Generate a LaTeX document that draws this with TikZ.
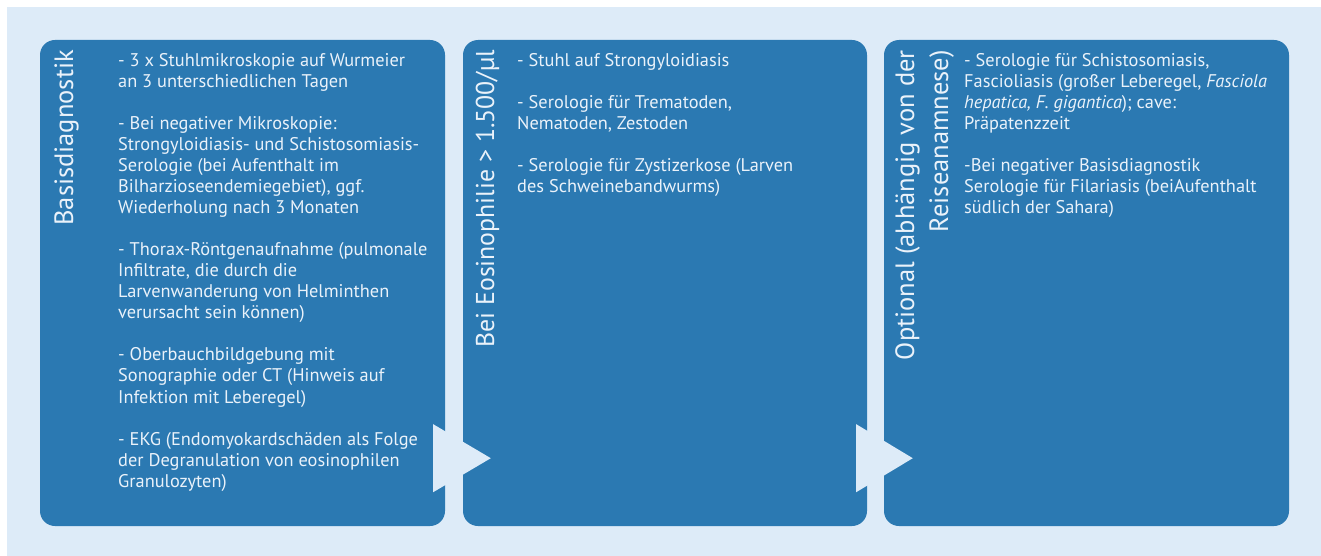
\documentclass[tikz,border=0pt]{standalone}
\usepackage{fontspec}
\setmainfont{PT Sans}
\usetikzlibrary{calc}
\definecolor{bgblue}{HTML}{DDEBF8}
\definecolor{boxblue}{HTML}{2B79B2}
\definecolor{txt}{HTML}{EAF2FA}
\begin{document}
\begin{tikzpicture}[x=1pt,y=-1pt,
  panel/.style={fill=boxblue, rounded corners=15pt, minimum width=405pt, minimum height=486pt, inner sep=0pt, draw=none},
  body/.style={anchor=north west, inner sep=0pt, align=left, text=txt, font=\fontsize{18.35}{21.05}\selectfont},
  title/.style={rotate=90, inner sep=0pt, text=txt, font=\fontsize{26.5}{34}\selectfont},
  tri/.style={fill=bgblue}]
\useasboundingbox (0,0) rectangle (1321,556);
\fill[bgblue] (7,7) rectangle (1321,556);
\node[panel] (b1) at (242.5,283) {};
\node[panel, minimum width=404pt] (b2) at (665,283) {};
\node[panel] (b3) at (1086.5,283) {};
% arrows between panels
\fill[tri] ($(b1.south east)+(-12,-102)$) coordinate (a1l) -- ($(b2.south west)+(28,-68)$) coordinate (a1t) -- ($(b1.south east)+(-12,-34)$) coordinate (a1b) -- cycle;
\fill[tri] ($(b2.south east)+(-11,-102)$) coordinate (a2l) -- ($(b3.south west)+(29,-68)$) coordinate (a2t) -- ($(b2.south east)+(-11,-34)$) coordinate (a2b) -- cycle;
% titles
\node[title, anchor=base east] (t1) at (73,50) {Basisdiagnostik};
\node[title, anchor=base east, font=\fontsize{25.8}{34}\selectfont] (t2) at (494,50) {Bei Eosinophilie > 1.500/µl};
\node[title, anchor=north east, align=right] (t3) at (890.2,50) {\strut Optional (abhängig von der\\Reiseanamnese)};
% body texts
\node[body] (x1) at (118,51.3) {\strut - 3 x Stuhlmikroskopie auf Wurmeier\\
an 3 unterschiedlichen Tagen\\[21.05pt]
- Bei negativer Mikroskopie:\\
Strongyloidiasis- und Schistosomiasis-\\
Serologie (bei Aufenthalt im\\
Bilharzioseendemiegebiet), ggf.\\
Wiederholung nach 3 Monaten\\[21.05pt]
- Thorax-Röntgenaufnahme (pulmonale\\
Infiltrate, die durch die\\
Larvenwanderung von Helminthen\\
verursacht sein können)\\[21.05pt]
- Oberbauchbildgebung mit\\
Sonographie oder CT (Hinweis auf\\
Infektion mit Leberegel)\\[21.05pt]
- EKG (Endomyokardschäden als Folge\\
der Degranulation von eosinophilen\\
Granulozyten)};
\node[body] (x2) at (517,51.3) {\strut - Stuhl auf Strongyloidiasis\\[21.05pt]
- Serologie für Trematoden,\\
Nematoden, Zestoden\\[21.05pt]
- Serologie für Zystizerkose (Larven\\
des Schweinebandwurms)};
\node[body] (x3) at (964,51.3) {\strut - Serologie für Schistosomiasis,\\
Fascioliasis (großer Leberegel, \textit{Fasciola}\\
\textit{hepatica, F. gigantica}); cave:\\
Präpatenzzeit\\[21.05pt]
-Bei negativer Basisdiagnostik\\
Serologie für Filariasis (beiAufenthalt\\
südlich der Sahara)};
\end{tikzpicture}
\end{document}
